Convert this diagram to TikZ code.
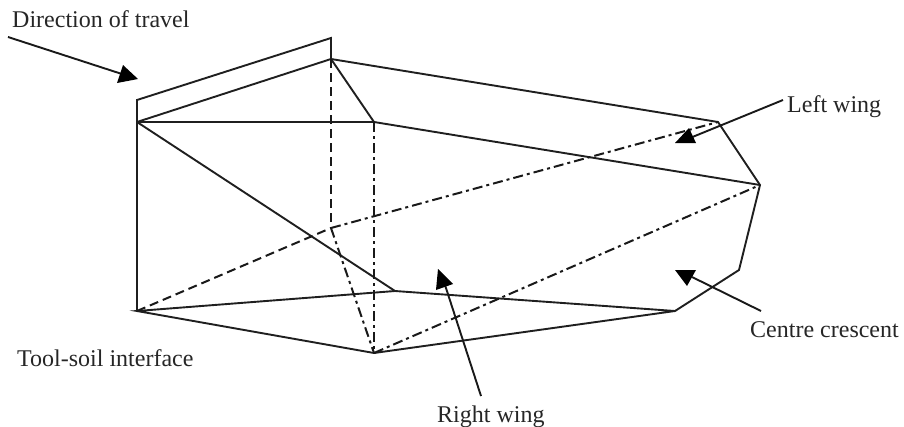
\documentclass[tikz,border=0pt]{standalone}
\usepackage{fontspec}
\setmainfont{Liberation Serif}
\tikzset{
  x=1pt,y=-1pt,
  solidline/.style={line width=1.9pt,black!88},
  thinarrow/.style={line width=1.9pt,black!90},
  dashdot/.style={line width=2pt,black!90,dash pattern=on 10pt off 4pt on 3pt off 4pt},
  dashonly/.style={line width=2pt,black!90,dash pattern=on 9pt off 5pt},
  lab/.style={inner sep=0pt,anchor=base west,font=\fontsize{24}{26}\selectfont,text=black!85},
  headfill/.style={fill=black,draw=none}
}
\begin{document}
\begin{tikzpicture}
\useasboundingbox (0,0) rectangle (904,426);
\coordinate (boxa) at (137,100);
\coordinate (boxb) at (331,38);
\coordinate (p0) at (137,122);
\coordinate (p1) at (331,59);
\coordinate (p2) at (374,122);
\coordinate (p3) at (718,122);
\coordinate (p4) at (760,185);
\coordinate (p5) at (739,270);
\coordinate (p6) at (675,311);
\coordinate (q0) at (137,311);
\coordinate (q1) at (374,353);
\coordinate (q2) at (395,291);
\coordinate (m1) at (331,228);
% solid
\draw[solidline,line join=miter] (p0) -- (boxa) -- (boxb) -- (p1);
\draw[solidline] (p0) -- (p1) -- (p3) -- (p4) -- (p5) -- (p6) -- (q2) -- (q0) -- (q1) -- (p6);
\draw[solidline] (p0) -- (p2) -- (p4);
\draw[solidline] (p1) -- (p2);
\draw[solidline] (p0) -- (q0);
\draw[solidline] (p0) -- (q2);
% hidden
\draw[dashonly] (p1) -- (m1);
\draw[dashdot] (m1) -- (q1);
\draw[dashdot] (p2) -- (q1);
\draw[dashdot] (q1) -- (p4);
\draw[dashonly] (q0) -- (m1);
\draw[dashdot] (m1) -- (p3);
% labels
\node[lab] (ldir) at (12,27) {Direction of travel};
\node[lab] (lleft) at (787,112) {Left wing};
\node[lab] (lcentre) at (750,337) {Centre crescent};
\node[lab] (ltool) at (17,366) {Tool-soil interface};
\node[lab] (lright) at (437,422) {Right wing};
% arrows
\coordinate (a1s) at (8,37);
\coordinate (a1t) at (125,75);
\draw[thinarrow] (a1s) -- (a1t);
\fill[headfill] (138,79) -- (123,65) -- (117,83) -- cycle;
\coordinate (a2s) at (783,100);
\coordinate (a2t) at (690,138);
\draw[thinarrow] (a2s) -- (a2t);
\fill[headfill] (675,143) -- (689,128) -- (696,143) -- cycle;
\coordinate (a3s) at (481,396);
\coordinate (a3t) at (445,285);
\draw[thinarrow] (a3s) -- (a3t);
\fill[headfill] (438,269) -- (453,284) -- (436,290) -- cycle;
\coordinate (a4s) at (761,311);
\coordinate (a4t) at (692,277);
\draw[thinarrow] (a4s) -- (a4t);
\fill[headfill] (675,270) -- (696,270) -- (687,286) -- cycle;
\end{tikzpicture}
\end{document}
